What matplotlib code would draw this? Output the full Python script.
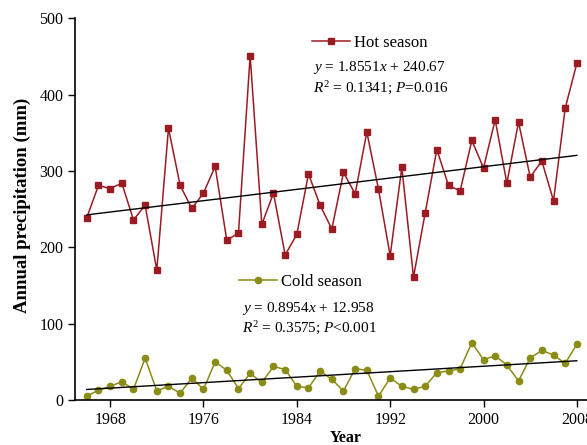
import numpy as np
import matplotlib
matplotlib.use("Agg")
from matplotlib import pyplot as plt

plt.rcParams["font.family"] = ["Liberation Serif", "DejaVu Serif"]
plt.rcParams["mathtext.fontset"] = "custom"
plt.rcParams["mathtext.rm"] = "Liberation Serif"
plt.rcParams["mathtext.it"] = "Liberation Serif:italic"

years = list(range(1966, 2009))

hot_season = [239, 281, 277, 284, 236, 255, 170, 356, 281, 251,
              271, 306, 209, 219, 451, 230, 271, 190, 217, 296,
              255, 224, 298, 270, 351, 276, 189, 305, 161, 245,
              328, 281, 274, 340, 304, 367, 284, 364, 292, 313,
              261, 382, 441]

cold_season = [5, 13, 18, 24, 14, 55, 12, 18, 9, 29,
               14, 50, 39, 15, 35, 23, 44, 40, 18, 16,
               38, 27, 12, 41, 39, 5, 29, 18, 14, 18,
               36, 38, 41, 75, 53, 58, 46, 25, 55, 65,
               59, 48, 73]

# regression coefficients as printed on the chart (x = 1..n)
hot_fit = (1.8551, 240.67)
cold_fit = (0.8954, 12.958)

hot_color = "#9a1c22"
cold_color = "#8a8c16"

fig = plt.figure(figsize=(5.87, 4.45), dpi=100)
ax = fig.add_axes([0.128, 0.101, 0.872, 0.858])

idx = np.arange(1, len(years) + 1)

hot_line, = ax.plot(years, hot_season, "-s", color=hot_color, lw=1.1, ms=4.5, label="Hot season")
cold_line, = ax.plot(years, cold_season, "-o", color=cold_color, lw=1.1, ms=4.5, label="Cold season")
ax.plot(years, hot_fit[0] * idx + hot_fit[1], color="black", lw=1.0)
ax.plot(years, cold_fit[0] * idx + cold_fit[1], color="black", lw=1.0)

ax.set_xlim(1965, 2008.87)
ax.set_ylim(0, 500)
ax.set_xticks([1968, 1976, 1984, 1992, 2000, 2008])
ax.set_yticks([0, 100, 200, 300, 400, 500])
ax.tick_params(direction="out", length=5, width=1, labelsize=11.5)
ax.spines["top"].set_visible(False)
ax.spines["right"].set_visible(False)
ax.spines["left"].set_linewidth(1.2)
ax.spines["bottom"].set_linewidth(1.2)

ax.set_xlabel("Year", fontsize=11.5, fontweight="bold")
ax.xaxis.set_label_coords(0.529, -0.078)
ax.set_ylabel("Annual precipitation (mm)", fontsize=13.5, fontweight="bold")
ax.yaxis.set_label_coords(-0.086, 0.51)

# legend entries drawn next to each series
leg_kw = dict(frameon=False, fontsize=12, handlelength=2.3, handletextpad=0.2,
              borderaxespad=0, borderpad=0, loc="center left")
leg1 = ax.legend(handles=[hot_line], bbox_to_anchor=(0.463, 0.935), **leg_kw)
ax.add_artist(leg1)
ax.legend(handles=[cold_line], bbox_to_anchor=(0.320, 0.309), **leg_kw)

eq_kw = dict(transform=ax.transAxes, fontsize=11, va="center")
ax.text(0.465, 0.872, r"$y$ = 1.8551$x$ + 240.67", **eq_kw)
ax.text(0.465, 0.817, r"$R^2$ = 0.1341; $P$=0.016", **eq_kw)
ax.text(0.326, 0.241, r"$y$ = 0.8954$x$ + 12.958", **eq_kw)
ax.text(0.326, 0.188, r"$R^2$ = 0.3575; $P$<0.001", **eq_kw)

fig.savefig("out.png", dpi=100)
